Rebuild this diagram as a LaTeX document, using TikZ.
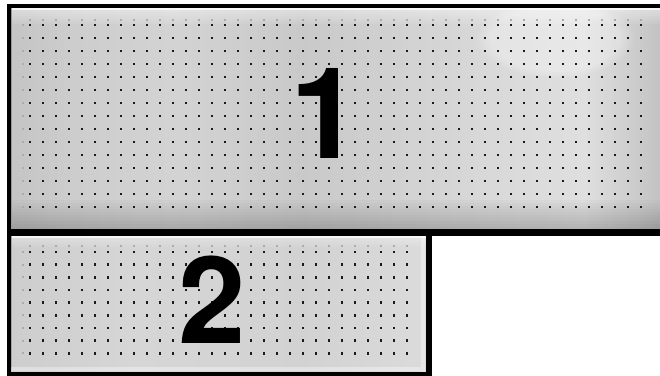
\documentclass[tikz,border=0pt]{standalone}
\usepackage{fontspec}
\setmainfont{TeX Gyre Heros}
\usetikzlibrary{fadings}
\definecolor{pa0}{HTML}{C4C4C4}
\definecolor{pa1}{HTML}{CDCDCD}
\definecolor{pa2}{HTML}{D3D3D3}
\definecolor{pa3}{HTML}{C9C9C9}
\definecolor{pa4}{HTML}{D8D8D8}
\definecolor{pa5}{HTML}{DFDFDF}
\definecolor{pa6}{HTML}{C2C2C2}
\definecolor{pb0}{HTML}{CDCDCD}
\definecolor{pb1}{HTML}{D6D6D6}
\definecolor{pb2}{HTML}{D2D2D2}
\definecolor{pb3}{HTML}{DADADA}
\definecolor{dotc}{HTML}{1A1A1A}
\definecolor{ghost}{HTML}{ABABAB}
\pgfdeclarehorizontalshading{panelA}{100bp}{color(0bp)=(pa0); color(25bp)=(pa0); color(30bp)=(pa1); color(37.5bp)=(pa2); color(47.5bp)=(pa3); color(61bp)=(pa4); color(69bp)=(pa5); color(75bp)=(pa6); color(100bp)=(pa6)}
\pgfdeclarehorizontalshading{panelB}{100bp}{color(0bp)=(pb0); color(25bp)=(pb0); color(40bp)=(pb1); color(60bp)=(pb2); color(73bp)=(pb3); color(75bp)=(pb3); color(100bp)=(pb3)}
\tikzset{
  frame/.style={draw=black, line width=4pt},
  hole/.style={fill=dotc},
  ghostdot/.style={fill=ghost},
  bignum/.style={inner sep=0pt, font=\bfseries\fontsize{127}{127}\selectfont}
}
\begin{document}
\begin{tikzpicture}[x=1pt,y=-1pt]
\useasboundingbox (0,0) rectangle (660,375);
\fill[white] (0,0) rectangle (660,375);
\begin{scope}
\clip (0,0) rectangle (660,375);
% panel 1 surface
\shade[shading=panelA] (9,6) rectangle (662,232);
\foreach \k in {0,...,7} { \fill[white, opacity=0.07] (9,8) rectangle (662,{10+2*\k}); }
\foreach \k in {0,...,9} { \fill[black, opacity=0.018] (9,{200+3*\k}) rectangle (662,230); }
\fill[white, opacity=0.3, path fading=circle with fuzzy edge 20 percent] (555,38) ellipse (80 and 40);
% panel 2 surface
\shade[shading=panelB] (9,232) rectangle (429,374);
\foreach \k in {0,...,5} { \fill[white, opacity=0.07] (9,235) rectangle (426,{237+2*\k}); }
% bevels
\draw[white, line width=1.5pt, opacity=0.8] (11,9) -- (660,9);
\draw[black!40, line width=1pt] (11.5,8) -- (11.5,229);
\draw[white, line width=1.5pt, opacity=0.7] (11,237) -- (426,237);
\draw[black!35, line width=1pt] (11.5,236) -- (11.5,371);
\draw[white, line width=4pt, opacity=0.35] (423,236) -- (423,372);
\draw[white, line width=4pt, opacity=0.35] (11,369) -- (421,369);
% ghost dots panel 1
\foreach \i in {0,...,47} { \fill[ghostdot] ({30+13*\i-1.4},18.5) rectangle +(2.8,2); }
\foreach \j in {0,...,14} { \fill[ghostdot] (21.7,{25+13*\j-1}) rectangle +(2,2); }
% holes panel 1
\foreach \i in {0,...,47} {
  \foreach \j in {0,...,14} {
    \fill[hole] ({30+13*\i-1.4},{25+13*\j-1.4}) rectangle +(2.8,2.8);
  }
}
% ghost dots panel 2
\foreach \i in {0,...,29} { \fill[ghostdot] ({30+13*\i-1.4},244.5) rectangle +(2.8,2); }
\foreach \j in {0,...,8} { \fill[ghostdot] (21.7,{252+12.65*\j-1}) rectangle +(2,2); }
% holes panel 2
\foreach \i in {0,...,29} {
  \foreach \j in {0,...,8} {
    \fill[hole] ({30+13*\i-1.4},{252+12.65*\j-1.4}) rectangle +(2.8,2.8);
  }
}
% frames
\draw[frame] (9,233) -- (9,6) -- (664,6);
\draw[black, line width=6.5pt] (7,232.5) -- (664,232.5);
\draw[frame] (9,232) -- (9,374) -- (429,374);
\draw[black, line width=5.5pt] (429,230) -- (429,376);
\end{scope}
% numbers
\node[bignum] (n1) at (326,113) {1};
\node[bignum, font=\bfseries\fontsize{121}{121}\selectfont] (n2) at (212,300) {2};
\end{tikzpicture}
\end{document}
